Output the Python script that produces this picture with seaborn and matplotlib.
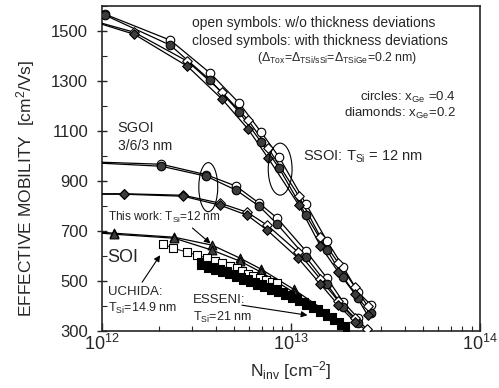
import matplotlib
matplotlib.use("Agg")
import matplotlib.pyplot as plt
import matplotlib.ticker as mticker
from matplotlib.patches import Ellipse
import pandas as pd
import seaborn as sns

# ---- data (N_inv in cm^-2, mobility in cm^2/Vs) ----
# SSOI, T_Si = 12 nm
ssoi_circ_n = [1.04e12, 2.30e12, 3.74e12, 5.32e12, 6.95e12, 8.65e12, 1.20e13, 1.55e13, 1.89e13, 2.26e13, 2.65e13]
ssoi_circ_open = [1567, 1463, 1331, 1211, 1095, 995, 807, 659, 555, 455, 403]
ssoi_circ_closed = [1563, 1443, 1303, 1175, 1055, 951, 763, 623, 515, 431, 371]

ssoi_dia_n = [1.00e12, 1.48e12, 2.83e12, 4.32e12, 5.93e12, 7.57e12, 1.10e13, 1.43e13, 1.78e13, 2.18e13, 2.54e13]
ssoi_dia_open = [1531, 1495, 1379, 1255, 1143, 1031, 839, 675, 571, 475, 399]
ssoi_dia_closed = [1527, 1487, 1359, 1227, 1107, 991, 803, 639, 535, 447, 363]

# SGOI 3/6/3 nm
sgoi_circ_n = [1.00e12, 2.06e12, 3.56e12, 5.13e12, 6.78e12, 8.45e12, 1.20e13, 1.55e13, 1.89e13, 2.26e13]
sgoi_circ_open = [975, 967, 925, 879, 811, 751, 619, 511, 415, 351]
sgoi_circ_closed = [971, 959, 919, 863, 799, 727, 595, 487, 395, 331]

sgoi_dia_n = [1.00e12, 1.31e12, 2.69e12, 4.22e12, 5.86e12, 7.48e12, 1.09e13, 1.43e13, 1.78e13, 2.18e13, 2.53e13]
sgoi_dia_open = [849, 849, 843, 811, 775, 723, 615, 507, 419, 351, 307]
sgoi_dia_closed = [847, 847, 839, 803, 763, 703, 591, 487, 403, 335, 300]

# SOI, this work T_Si = 12 nm
soi_n = [1.00e12, 1.16e12, 2.41e12, 3.83e12, 5.38e12, 6.95e12, 1.03e13, 1.45e13, 1.90e13]
soi_a = [695, 691, 675, 643, 591, 547, 467, 390, 318]
soi_b = [691, 687, 671, 623, 579, 535, 455, 375, 305]
soi_marked = [False, True, True, True, True, True, True, False, False]

# UCHIDA, T_Si = 14.9 nm
uchida_n = [2.11e12, 2.38e12, 2.83e12, 3.19e12, 3.60e12, 3.97e12, 4.32e12, 4.77e12,
            5.19e12, 5.52e12, 5.93e12, 6.31e12, 6.87e12, 7.38e12, 7.94e12, 8.45e12]
uchida_mu = [647, 631, 615, 603, 591, 579, 571, 559, 551, 539, 527, 519, 511, 503, 495, 491]

# ESSENI, T_Si = 21 nm
esseni_n = [3.31e12, 3.60e12, 3.92e12, 4.27e12, 4.65e12, 5.06e12, 5.51e12, 6.00e12, 6.54e12, 7.12e12, 7.75e12,
            8.44e12, 9.19e12, 1.00e13, 1.09e13, 1.19e13, 1.29e13, 1.41e13, 1.53e13, 1.67e13, 1.82e13, 1.96e13]
esseni_hi = [579, 569, 559, 551, 543, 531, 521, 511, 501, 491, 481, 471, 459, 447, 435, 421, 407, 391, 375, 359, 341, 323]
esseni_lo = [559, 549, 539, 531, 523, 511, 501, 491, 481, 471, 461, 451, 439, 427, 415, 401, 387, 371, 355, 339, 321, 303]

y_ticks = [300, 500, 700, 900, 1100, 1300, 1500]

sns.set_style("ticks")
plt.rcParams["font.family"] = ["Liberation Sans", "DejaVu Sans"]
plt.rcParams["mathtext.fontset"] = "custom"
plt.rcParams["mathtext.rm"] = "Liberation Sans"
plt.rcParams["mathtext.it"] = "Liberation Sans:italic"
plt.rcParams["mathtext.default"] = "regular"

DARK = "#3c3c3c"

fig = plt.figure(figsize=(4.99, 3.88), dpi=100)
ax = fig.add_axes([0.2044, 0.147, 0.758, 0.8375])
ax.set_xscale("log")


def curve(n, mu, marker, face, size, lw=0.9, marked=None, line=True, z=3):
    df = pd.DataFrame({"n": n, "mu": mu})
    if line:
        sns.lineplot(data=df, x="n", y="mu", ax=ax, color="black", lw=lw,
                     sort=False, estimator=None, zorder=z)
    pts = df if marked is None else df[marked]
    sns.scatterplot(data=pts, x="n", y="mu", ax=ax, marker=marker, s=size,
                    color=face, edgecolor="black", linewidth=0.8, zorder=z + 1)


def start_off(n):
    # first entry at 1e12 only anchors the line, no symbol there
    return [v > 1.001e12 for v in n]


# SSOI
curve(ssoi_circ_n, ssoi_circ_open, "o", "white", 38)
curve(ssoi_circ_n, ssoi_circ_closed, "o", DARK, 38)
curve(ssoi_dia_n, ssoi_dia_open, "D", "white", 24, marked=start_off(ssoi_dia_n))
curve(ssoi_dia_n, ssoi_dia_closed, "D", DARK, 24, marked=start_off(ssoi_dia_n))
# SGOI
curve(sgoi_circ_n, sgoi_circ_open, "o", "white", 38, marked=start_off(sgoi_circ_n))
curve(sgoi_circ_n, sgoi_circ_closed, "o", DARK, 38, marked=start_off(sgoi_circ_n))
sgoi_dia_mark_closed = start_off(sgoi_dia_n)
sgoi_dia_mark_closed[-1] = False
curve(sgoi_dia_n, sgoi_dia_open, "D", "white", 24, marked=start_off(sgoi_dia_n))
curve(sgoi_dia_n, sgoi_dia_closed, "D", DARK, 24, marked=sgoi_dia_mark_closed)
# SOI this work
curve(soi_n, soi_a, "^", DARK, 40, marked=soi_marked)
curve(soi_n, soi_b, "^", DARK, 40, marked=soi_marked)
# Uchida / Esseni
curve(uchida_n, uchida_mu, "s", "white", 26, lw=0.7, z=5)
curve(esseni_n, esseni_hi, "s", "black", 16, line=False, z=6)
curve(esseni_n, esseni_lo, "s", "black", 16, line=False, z=6)

ax.set_xlim(1e12, 1e14)
ax.set_ylim(300, 1600)
ax.set_yticks(y_ticks)
ax.yaxis.set_minor_locator(mticker.MultipleLocator(100))
ax.xaxis.set_major_locator(mticker.LogLocator(base=10))
ax.xaxis.set_minor_locator(mticker.LogLocator(base=10, subs=range(2, 10)))
ax.xaxis.set_minor_formatter(mticker.NullFormatter())
ax.tick_params(axis="y", which="major", direction="inout", length=7, width=1, labelsize=12, pad=6.5)
ax.tick_params(axis="y", which="minor", direction="in", length=3.5, width=0.8)
ax.tick_params(axis="x", which="major", direction="in", length=6, width=1, labelsize=13, pad=2)
ax.tick_params(axis="x", which="minor", direction="in", length=3.5, width=0.8)
for sp in ax.spines.values():
    sp.set_linewidth(1.2)

ax.set_xlabel("N$_{inv}$ [cm$^{-2}$]", fontsize=12.5, labelpad=4)
ax.set_ylabel("EFFECTIVE MOBILITY  [cm$^{2}$/Vs]", fontsize=12.5)
ax.yaxis.set_label_coords(-0.171, 0.44)

# ellipses around the curve groups
ax.add_patch(Ellipse((0.281, 0.4426), 0.050, 0.151, transform=ax.transAxes,
                     fill=False, lw=0.8, ec="black", zorder=8))
ax.add_patch(Ellipse((0.471, 0.498), 0.063, 0.160, transform=ax.transAxes,
                     fill=False, lw=0.8, ec="black", zorder=8))

# annotations
ax.text(3.0e12, 1531, "open symbols: w/o thickness deviations", fontsize=10, va="center")
ax.text(3.0e12, 1459, "closed symbols: with thickness deviations", fontsize=10, va="center")
ax.text(6.6e12, 1391, "(Δ$_{Tox}$=Δ$_{TSi/sSi}$=Δ$_{TSiGe}$=0.2 nm)", fontsize=8.8, va="center")
ax.text(7.4e13, 1235, "circles: x$_{Ge}$ =0.4", fontsize=9.5, va="center", ha="right")
ax.text(7.4e13, 1171, "diamonds: x$_{Ge}$=0.2", fontsize=9.5, va="center", ha="right")
ax.text(1.16e13, 995, "SSOI: T$_{Si}$ = 12 nm", fontsize=10.5, va="center")
ax.text(1.21e12, 1111, "SGOI", fontsize=10.5, va="center")
ax.text(1.21e12, 1039, "3/6/3 nm", fontsize=10, va="center")
ax.text(1.07e12, 595, "SOI", fontsize=13, va="center")
ax.text(1.07e12, 455, "UCHIDA:", fontsize=9.5, va="center")
ax.text(1.07e12, 391, "T$_{Si}$=14.9 nm", fontsize=9, va="center")
ax.text(3.01e12, 423, "ESSENI:", fontsize=9.5, va="center")
ax.text(3.01e12, 355, "T$_{Si}$=21 nm", fontsize=9, va="center")

arrow = dict(arrowstyle="-|>", color="black", lw=0.8, mutation_scale=9, shrinkA=0, shrinkB=0)
ax.annotate("This work: T$_{Si}$=12 nm", xy=(3.75e12, 650), xytext=(1.07e12, 755),
            fontsize=8.5, va="center", arrowprops=dict(arrow, relpos=(0.72, 0.0)), zorder=9)
ax.annotate("", xy=(2.03e12, 603), xytext=(1.63e12, 495), arrowprops=arrow, zorder=9)
ax.annotate("", xy=(1.22e13, 363), xytext=(5.5e12, 403), arrowprops=arrow, zorder=9)

fig.savefig("out.png", dpi=100)
